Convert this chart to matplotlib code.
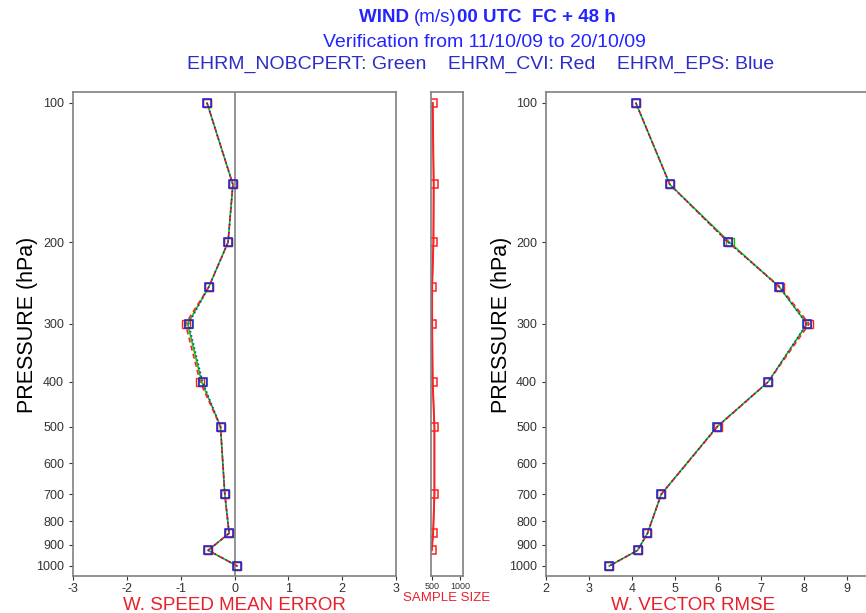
import matplotlib
matplotlib.use("Agg")
import matplotlib.pyplot as plt

plt.rcParams['font.family'] = ['Liberation Sans', 'DejaVu Sans']

# pressure levels (hPa)
levels = [100, 150, 200, 250, 300, 400, 500, 700, 850, 925, 1000]
levels_ss = [100, 150, 200, 250, 300, 400, 500, 700, 850, 925]

# wind speed mean error
me_green = [-0.51, -0.03, -0.12, -0.48, -0.87, -0.61, -0.26, -0.18, -0.10, -0.49, 0.05]
me_red = [-0.51, -0.03, -0.12, -0.48, -0.91, -0.64, -0.26, -0.18, -0.10, -0.49, 0.05]
me_blue = [-0.51, -0.03, -0.12, -0.48, -0.85, -0.59, -0.26, -0.18, -0.10, -0.49, 0.05]

# sample size
ss_green = [508, 526, 521, 498, 498, 508, 539, 539, 516, 491]
ss_red = [508, 526, 521, 498, 498, 508, 539, 539, 516, 491]

# wind vector rmse
rmse_green = [4.09, 4.88, 6.27, 7.43, 8.07, 7.17, 5.98, 4.68, 4.36, 4.13, 3.47]
rmse_red = [4.09, 4.88, 6.24, 7.45, 8.12, 7.17, 5.99, 4.68, 4.36, 4.13, 3.47]
rmse_blue = [4.09, 4.88, 6.24, 7.43, 8.06, 7.17, 5.98, 4.68, 4.36, 4.13, 3.47]

ytick_vals = [100, 200, 300, 400, 500, 600, 700, 800, 900, 1000]

title_col = '#2424ff'
leg_col = '#2c2cc8'
lab_col = '#e8202a'
frame_col = '#808080'

fig = plt.figure(figsize=(8.66, 6.13), dpi=100)
ax1 = fig.add_axes([73 / 866, 37 / 613, 323 / 866, 484 / 613])
ax2 = fig.add_axes([431 / 866, 37 / 613, 32 / 866, 484 / 613])
ax3 = fig.add_axes([546 / 866, 37 / 613, 344 / 866, 484 / 613])


def draw(ax, x_g, x_r, x_b, y):
    ax.plot(x_g, y, color='#00cc00', lw=1.2, marker='s', ms=5.5, mfc='none', mec='#00cc00', mew=1)
    ax.plot(x_r, y, color='#ff2020', lw=1.2, ls=(0, (3, 2)), marker='s', ms=5.5, mfc='none', mec='#ff2020', mew=1)
    ax.plot(x_b, y, color='#2020dd', lw=1.0, ls=(0, (1, 2)), marker='s', ms=5.5, mfc='none', mec='#2020dd', mew=1.1)


def style(ax, show_y=True):
    ax.set_yscale('log')
    ax.set_ylim(1051, 94.7)
    ax.minorticks_off()
    for s in ax.spines.values():
        s.set_color(frame_col)
        s.set_linewidth(1.2)
    ax.tick_params(axis='both', colors='#333333', labelsize=9, length=3, width=0.8)
    ax.tick_params(axis='x', pad=2)
    if show_y:
        ax.set_yticks(ytick_vals)
        ax.set_yticklabels([str(v) for v in ytick_vals])
    else:
        ax.set_yticks([])


# left: mean error
ax1.axvline(0, color=frame_col, lw=1.2)
draw(ax1, me_green, me_red, me_blue, levels)
style(ax1)
ax1.set_xlim(-3, 3)
ax1.set_xticks([-3, -2, -1, 0, 1, 2, 3])
ax1.set_xticklabels(['-3', '-2', '-1', '0', '1', '2', '3'])
ax1.set_xlabel('W. SPEED MEAN ERROR', fontsize=13.5, color=lab_col)
ax1.xaxis.set_label_coords(0.5, -0.043)

# middle: sample size
ax2.plot(ss_green, levels_ss, color='#606060', lw=1)
ax2.plot(ss_red, levels_ss, color='#ff2020', lw=1.4, marker='s', ms=6, mfc='none', mec='#ff2020', mew=1.1)
style(ax2, show_y=False)
ax2.set_xlim(478, 1050)
ax2.set_xticks([500, 1000])
ax2.set_xticklabels(['500', '1000'], fontsize=6.5)
ax2.tick_params(axis='x', pad=1)
ax2.set_xlabel('SAMPLE SIZE', fontsize=9.5, color=lab_col,
               family=['Liberation Sans Narrow', 'Liberation Sans'])
ax2.xaxis.set_label_coords(0.5, -0.033)

# right: rmse
draw(ax3, rmse_green, rmse_red, rmse_blue, levels)
style(ax3)
ax3.set_xlim(2, 10)
ax3.set_xticks([2, 3, 4, 5, 6, 7, 8, 9])
ax3.set_xlabel('W. VECTOR RMSE', fontsize=13.5, color=lab_col)
ax3.xaxis.set_label_coords(0.427, -0.043)

# y labels
fig.text(28 / 866, 1 - 325 / 613, 'PRESSURE (hPa)', rotation=90, ha='center', va='center', fontsize=15.5)
fig.text(502 / 866, 1 - 325 / 613, 'PRESSURE (hPa)', rotation=90, ha='center', va='center', fontsize=15.5)

# title: first line in pieces with mixed weights
renderer = fig.canvas.get_renderer()
pieces = [('WIND ', 'bold'), ('(m/s)', 'normal'), ('00 UTC  FC + 48 h', 'bold')]
texts = []
for s, w in pieces:
    texts.append(fig.text(0, 0.971, s, ha='left', va='center', fontsize=13.5, fontweight=w, color=title_col))
widths = [t.get_window_extent(renderer).width for t in texts]
x0 = 487 - sum(widths) / 2
for t, w in zip(texts, widths):
    t.set_x(x0 / 866)
    x0 += w

fig.text(484 / 866, 0.931, 'Verification from 11/10/09 to 20/10/09', ha='center', va='center', fontsize=14, color=title_col)
fig.text(481 / 866, 0.895, 'EHRM_NOBCPERT: Green    EHRM_CVI: Red    EHRM_EPS: Blue', ha='center', va='center', fontsize=14, color=leg_col)

fig.savefig('out.png', dpi=100)
